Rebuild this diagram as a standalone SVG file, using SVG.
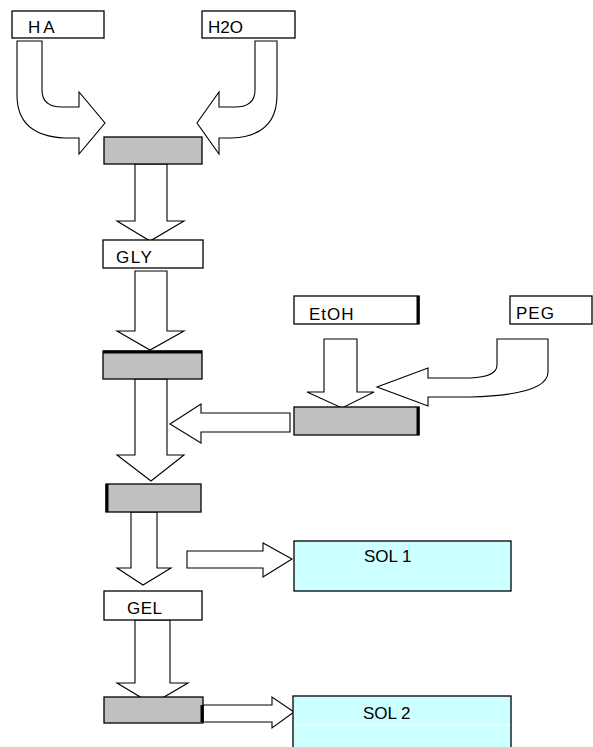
<svg xmlns="http://www.w3.org/2000/svg" width="593" height="747" viewBox="0 0 593 747">
<style>
.box{fill:#fff;stroke:#000;stroke-width:1.3}
.gray{fill:#c0c0c0;stroke:#000;stroke-width:1.3}
.sol{fill:#ccffff;stroke:#000;stroke-width:1.3}
.arr{fill:#fff;stroke:#000;stroke-width:1.1;stroke-linejoin:miter}
.thick{stroke:#000;stroke-width:3}
text{font-family:"Liberation Sans",Arial,sans-serif;font-size:17px;fill:#000}
</style>
<rect width="593" height="747" fill="#fff"/>
<g id="connectors">
<path class="arr" d="M17,41 L42,41 L42,90 Q42,107 62,107 L79,107 L79,92 L105,123 L79,154 L79,138 L65,138 Q17,136 17,95 Z"/>
<path class="arr" d="M277,41 L255,41 L255,90 Q255,107 235,107 L219,107 L219,92 L197,123 L219,154 L219,138 L232,138 Q277,136 277,95 Z"/>
<path class="arr" d="M135,164 L167,164 L167,221 L184,221 L150,241 L117,221 L135,221 Z"/>
<path class="arr" d="M135,271 L167,271 L167,331 L184,331 L150,350 L117,331 L135,331 Z"/>
<path class="arr" d="M135,379 L167,379 L167,455 L184,455 L151,481 L117,455 L135,455 Z"/>
<path class="arr" d="M131,512 L157,512 L157,568 L171,568 L143,585 L117,568 L131,568 Z"/>
<path class="arr" d="M135,620 L170,620 L170,683 L188,683 L152,704 L117,683 L135,683 Z"/>
<path class="arr" d="M187,551 L263,551 L263,543 L292,559 L263,577 L263,568 L187,568 Z"/>
<path class="arr" d="M203,705 L272,705 L272,697 L294,712 L272,728 L272,722 L203,722 Z"/>
<path class="arr" d="M324,339 L357,339 L357,392 L374,392 L342,408 L307,392 L324,392 Z"/>
<path class="arr" d="M290,413 L201,413 L201,404 L170,424 L201,443 L201,432 L290,432 Z"/>
<path class="arr" d="M548,339 L548,372 Q548,395 470,397 L428,397 L428,406 L377,387 L428,368 L428,378 L470,378 Q497,377 497,365 L497,339 Z"/>
</g>
<g id="ha"><rect class="box" x="12" y="11" width="92" height="27"/><text x="28" y="33" letter-spacing="3">HA</text></g>
<g id="h2o"><rect class="box" x="202" y="11" width="93" height="27"/><text x="208" y="33">H2O</text></g>
<g id="mix1"><rect class="gray" x="104" y="137" width="98" height="27"/></g>
<g id="gly"><rect class="box" x="103" y="240" width="100" height="28"/><text x="116" y="263" letter-spacing="1.5">GLY</text></g>
<g id="mix2"><rect class="gray" x="103" y="351" width="99" height="28"/><line class="thick" x1="103" y1="352" x2="202" y2="352"/></g>
<g id="mix3"><rect class="gray" x="106" y="484" width="95" height="28"/><line class="thick" x1="107" y1="484" x2="107" y2="512"/></g>
<g id="gel"><rect class="box" x="104" y="591" width="98" height="29"/><text x="127" y="614" letter-spacing="0.5">GEL</text></g>
<g id="mix4"><rect class="gray" x="104" y="697" width="99" height="26"/><line class="thick" x1="202" y1="705" x2="202" y2="722"/></g>
<g id="etoh"><rect class="box" x="294" y="296" width="125" height="28"/><line class="thick" x1="418" y1="296" x2="418" y2="324"/><text x="309" y="320" letter-spacing="1">EtOH</text></g>
<g id="peg"><rect class="box" x="510" y="296" width="82" height="28"/><text x="516" y="319" letter-spacing="1">PEG</text></g>
<g id="mix5"><rect class="gray" x="294" y="407" width="125" height="28"/><line class="thick" x1="418" y1="407" x2="418" y2="435"/></g>
<g id="sol1"><rect class="sol" x="294" y="541" width="217" height="50"/><text x="364" y="562">SOL 1</text></g>
<g id="sol2"><rect class="sol" x="293" y="696" width="218" height="60"/><line x1="294" y1="725" x2="510" y2="725" stroke="#fff" stroke-width="1"/><text x="363" y="719">SOL 2</text></g>
</svg>
